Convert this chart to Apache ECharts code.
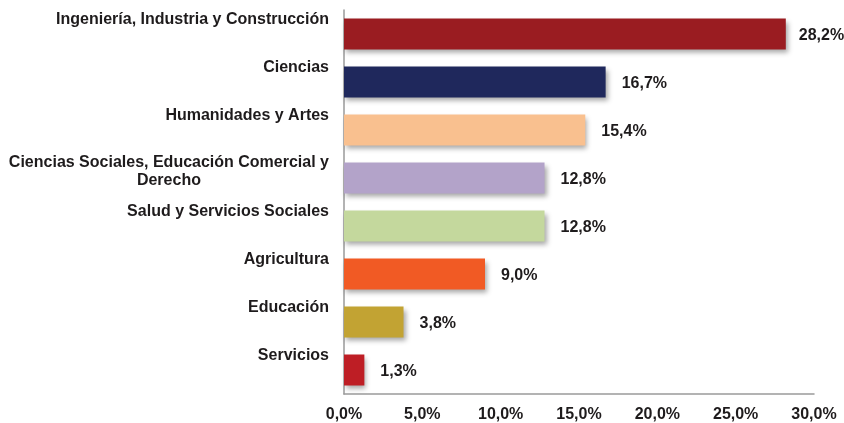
<!DOCTYPE html>
<html>
<head>
<meta charset="utf-8">
<script src="https://cdn.jsdelivr.net/npm/echarts@6/dist/echarts.min.js"></script>
<style>
html,body{margin:0;padding:0;background:#fff;}
#chart{width:844px;height:423px;}
</style>
</head>
<body>
<div id="chart"></div>
<script>
const categories = [
  "Ingeniería, Industria y Construcción",
  "Ciencias",
  "Humanidades y Artes",
  "Ciencias Sociales, Educación Comercial y\nDerecho",
  "Salud y Servicios Sociales",
  "Agricultura",
  "Educación",
  "Servicios"
];
const values = [28.2, 16.7, 15.4, 12.8, 12.8, 9.0, 3.8, 1.3];
const barColors = ["#9A1C21", "#1F285C", "#F9C08F", "#B3A3C9", "#C4D89D", "#F15A24", "#C2A333", "#BE1E25"];
const xTicks = { min: 0, max: 30, interval: 5 };

const FONT = "'Liberation Sans', Arial, sans-serif";
const TXT = "#1E1B1C";
const fmt = v => v.toFixed(1).replace('.', ',') + '%';

const chart = echarts.init(document.getElementById('chart'), null, { renderer: 'canvas' });
chart.setOption({
  animation: false,
  backgroundColor: '#ffffff',
  grid: { left: 344, right: 30, top: 10, bottom: 26, containLabel: false },
  xAxis: {
    type: 'value',
    min: xTicks.min, max: xTicks.max, interval: xTicks.interval,
    axisLine: { show: true, lineStyle: { color: '#9A9A9A', width: 1.5 } },
    axisTick: { show: false },
    splitLine: { show: false },
    axisLabel: {
      formatter: fmt, margin: 13,
      fontFamily: FONT, fontWeight: 'bold', fontSize: 16, color: TXT
    }
  },
  yAxis: {
    type: 'category',
    data: categories,
    inverse: true,
    axisLine: { show: true, lineStyle: { color: '#9A9A9A', width: 1.5 } },
    axisTick: { show: false },
    axisLabel: {
      interval: 0, margin: 15, align: 'right', verticalAlign: 'middle',
      fontFamily: FONT, fontWeight: 'bold', fontSize: 16, color: TXT, lineHeight: 18,
      formatter: function (v) {
        if (v.indexOf('\n') >= 0) {
          const parts = v.split('\n');
          return '{c|' + parts[0] + '}\n{c|' + parts[1] + '}\n{s2| }';
        }
        return '{c|' + v + '}\n{s1| }';
      },
      rich: {
        c: { align: 'center', fontFamily: FONT, fontWeight: 'bold', fontSize: 16, color: TXT, lineHeight: 18 },
        s1: { fontSize: 2, lineHeight: 28 },
        s2: { fontSize: 2, lineHeight: 12 }
      }
    }
  },
  series: [{
    type: 'bar',
    data: values.map((v, i) => ({
      value: v,
      itemStyle: {
        color: barColors[i],
        shadowColor: 'rgba(0,0,0,0.35)', shadowBlur: 5, shadowOffsetX: 2, shadowOffsetY: 3
      },
      label: i === 0 ? { distance: 13 } : undefined
    })),
    barWidth: 31,
    label: {
      show: true, position: 'right', distance: 16, offset: [0, 2],
      formatter: p => fmt(p.value),
      fontFamily: FONT, fontWeight: 'bold', fontSize: 16, color: TXT
    }
  }]
});
</script>
</body>
</html>
